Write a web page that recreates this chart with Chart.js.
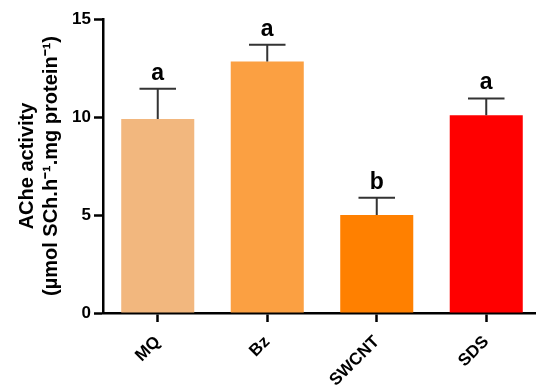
<!DOCTYPE html>
<html>
<head>
<meta charset="utf-8">
<script src="https://cdn.jsdelivr.net/npm/chart.js@4"></script>
<style>
  html, body { margin: 0; padding: 0; background: #fff; overflow: hidden; }
  canvas { display: block; }
</style>
</head>
<body>
<canvas id="c" width="541" height="392"></canvas>
<script>
// AChe activity per treatment group (mean and SD)
const categories = ['MQ', 'Bz', 'SWCNT', 'SDS'];
const meanActivity = [9.9, 12.83, 5.0, 10.09];
const sdActivity = [1.54, 0.85, 0.88, 0.86];
const groupLetters = ['a', 'a', 'b', 'a'];
const barColors = ['#F2B77E', '#FBA042', '#FF8000', '#FF0000'];
const yTickStep = 5;
const yMax = 15;

const FONT = 'Liberation Sans, Arial, Helvetica, sans-serif';

// Upper SD whiskers plus significance letters above each bar
const errorBars = {
  id: 'errorBars',
  afterDatasetsDraw(chart) {
    const { ctx, scales: { y } } = chart;
    const meta = chart.getDatasetMeta(0);
    ctx.save();
    ctx.strokeStyle = '#333';
    ctx.lineWidth = 2;
    ctx.fillStyle = '#000';
    ctx.font = 'bold 23px ' + FONT;
    ctx.textAlign = 'center';
    ctx.textBaseline = 'alphabetic';
    meta.data.forEach((bar, i) => {
      const cx = bar.x;
      const base = y.getPixelForValue(meanActivity[i]);
      const top = y.getPixelForValue(meanActivity[i] + sdActivity[i]);
      const half = bar.width / 4;
      ctx.beginPath();
      ctx.moveTo(cx, base);
      ctx.lineTo(cx, top);
      ctx.moveTo(cx - half, top);
      ctx.lineTo(cx + half, top);
      ctx.stroke();
      ctx.fillText(groupLetters[i], cx, top - 9);
    });
    ctx.restore();
  }
};

new Chart(document.getElementById('c'), {
  type: 'bar',
  data: {
    labels: categories,
    datasets: [{
      data: meanActivity,
      backgroundColor: barColors,
      borderWidth: 0,
      barPercentage: 1,
      categoryPercentage: 0.667
    }]
  },
  options: {
    responsive: false,
    animation: false,
    layout: { padding: { top: 19, left: 0, right: 0, bottom: 0 } },
    plugins: { legend: { display: false }, tooltip: { enabled: false } },
    scales: {
      x: {
        ticks: {
          color: '#000',
          font: { family: FONT, size: 17, weight: 'bold' },
          minRotation: 45,
          maxRotation: 45,
          padding: 10
        },
        grid: {
          display: true,
          offset: false,
          drawOnChartArea: false,
          drawTicks: true,
          tickLength: 9,
          tickColor: '#000',
          tickWidth: 2.5
        },
        border: { display: true, color: '#000', width: 2.5 },
        afterFit(s) { s.height = 79; }
      },
      y: {
        min: 0,
        max: yMax,
        ticks: {
          stepSize: yTickStep,
          color: '#000',
          font: { family: FONT, size: 17, weight: 'bold' },
          padding: 3
        },
        grid: {
          display: true,
          drawOnChartArea: false,
          drawTicks: true,
          tickLength: 9,
          tickColor: '#000',
          tickWidth: 2.5
        },
        border: { display: true, color: '#000', width: 2.5 },
        title: {
          display: true,
          text: ['AChe activity', '(\u00B5mol SCh.h\u207B\u00B9.mg protein\u207B\u00B9)'],
          color: '#000',
          font: { family: FONT, size: 20, weight: 'bold', lineHeight: 1.2 },
          padding: { top: 15, bottom: 0 }
        },
        afterFit(s) { s.width = 103; }
      }
    }
  },
  plugins: [errorBars]
});
</script>
</body>
</html>
